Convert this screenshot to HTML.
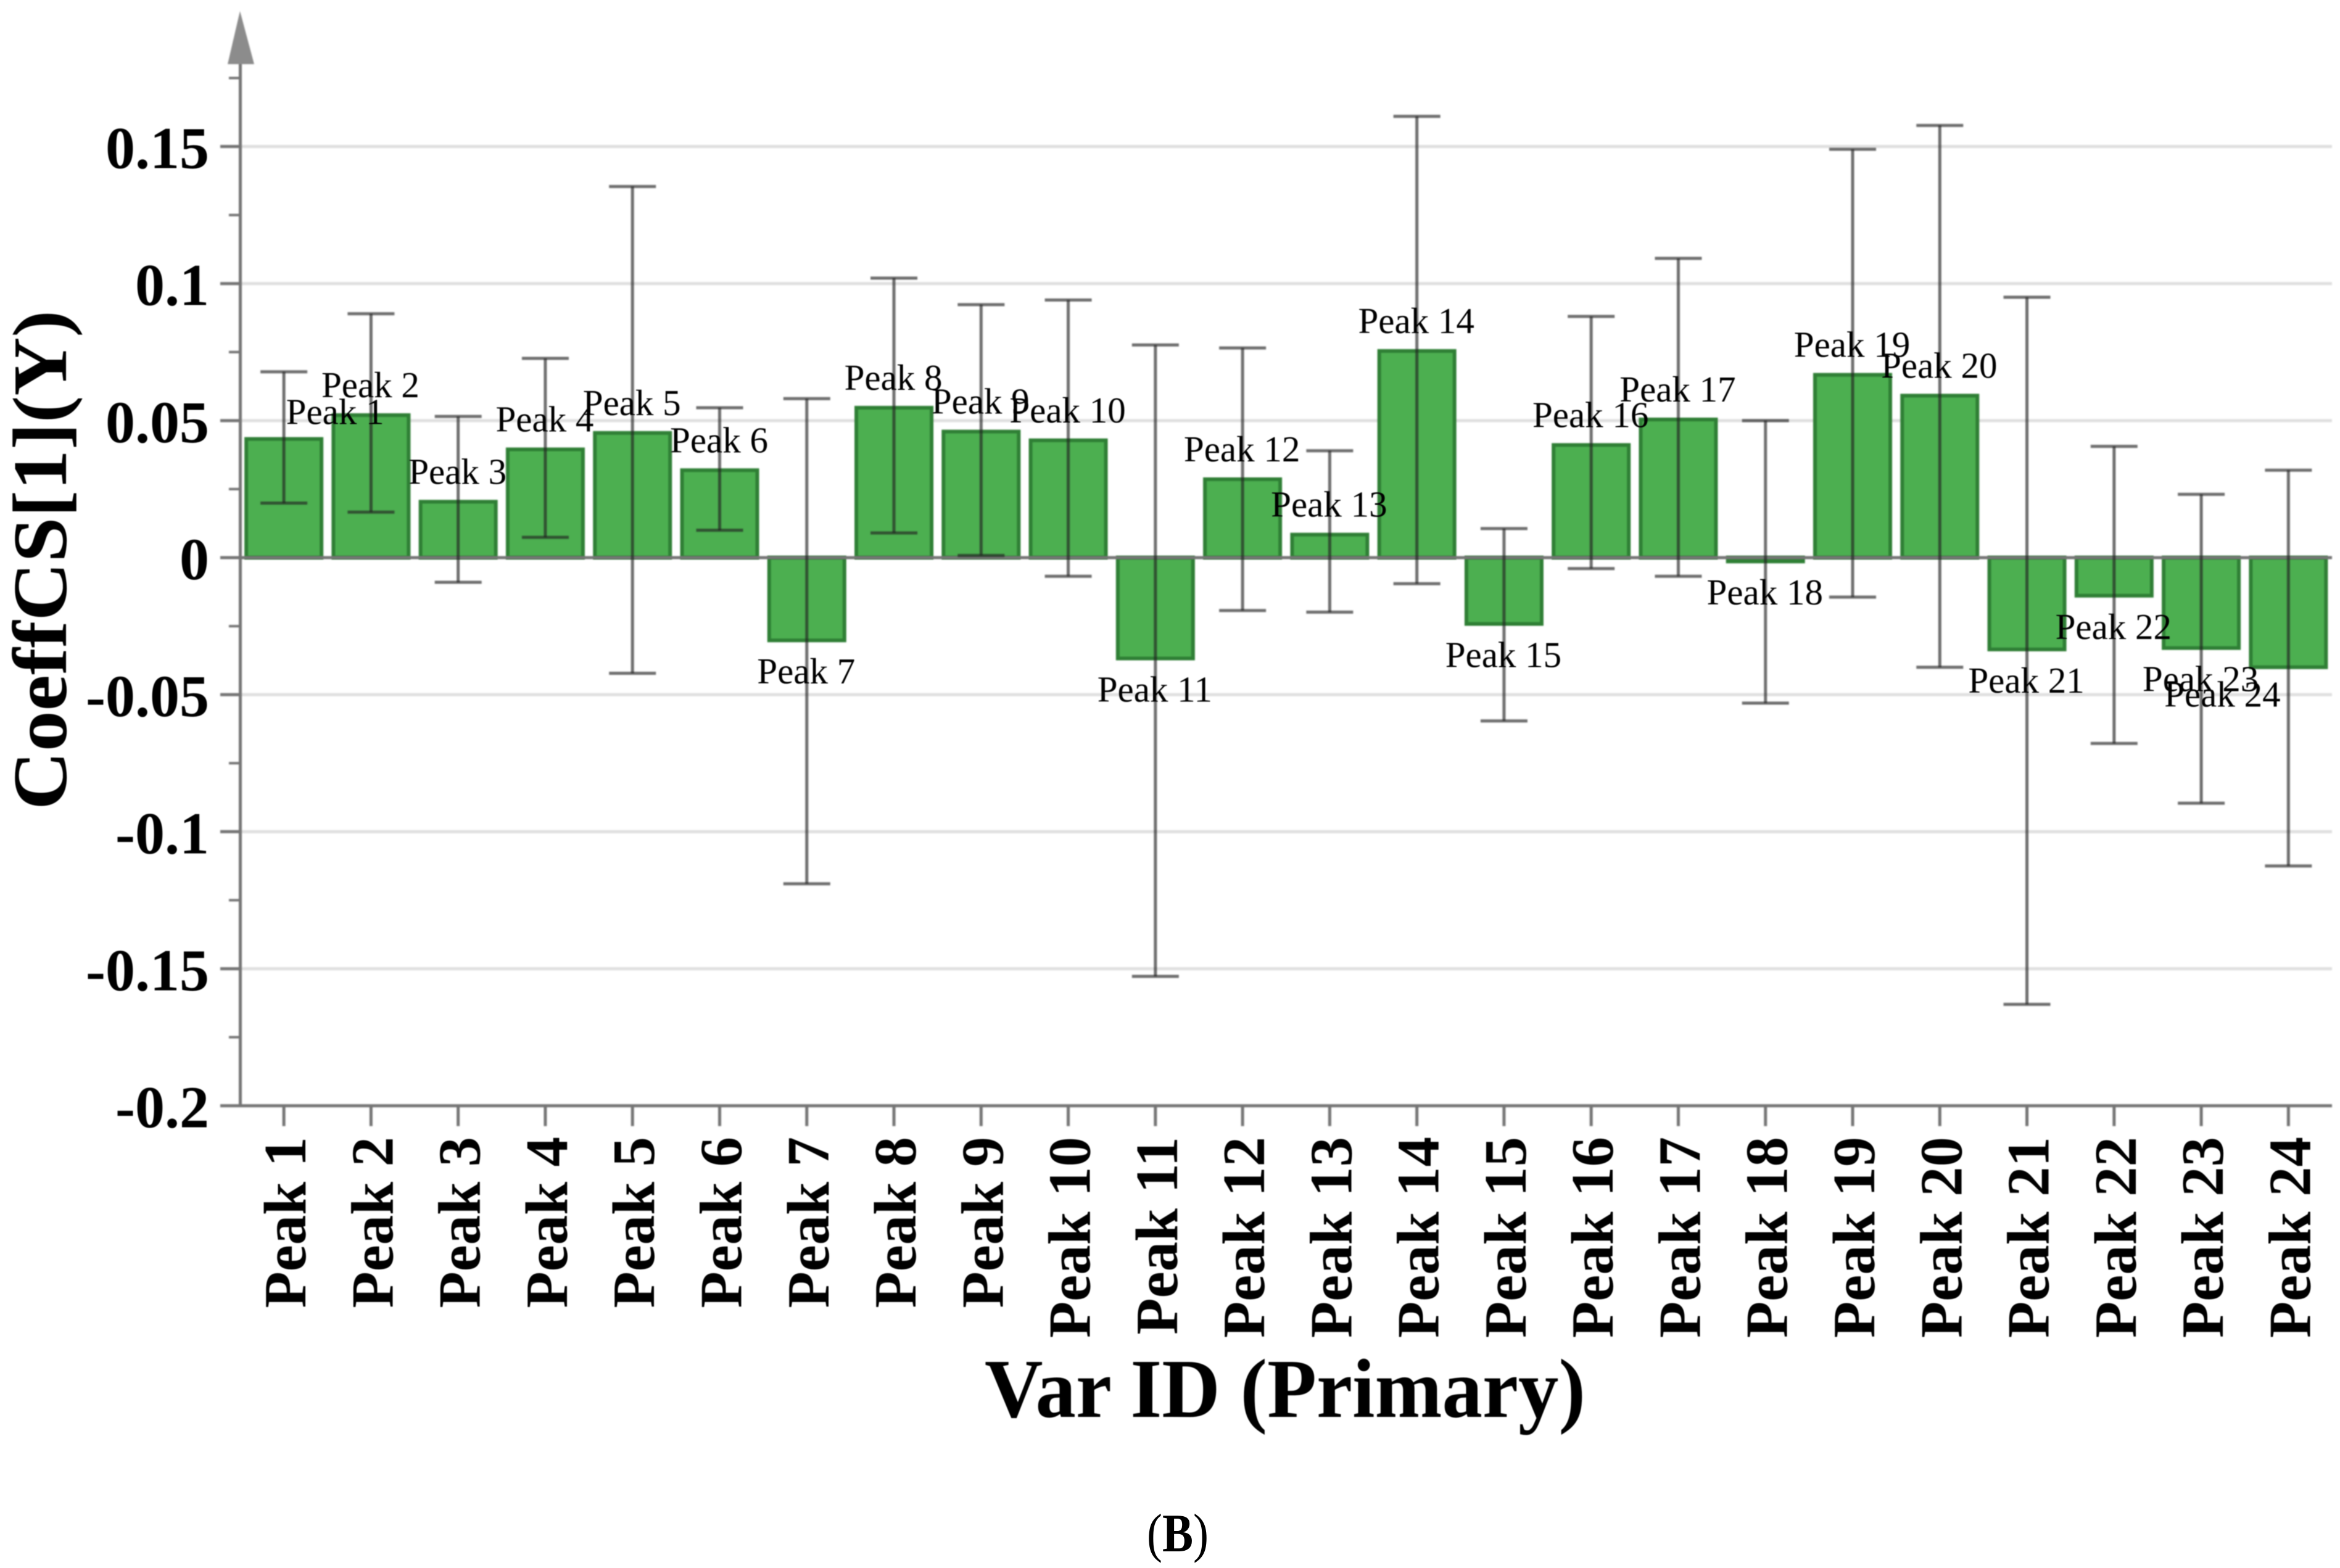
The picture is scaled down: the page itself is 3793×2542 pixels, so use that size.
<!DOCTYPE html>
<html lang="en">
<head>
<meta charset="utf-8">
<title>CoeffCS[1](Y) by peak</title>
<style>
  html, body { margin: 0; padding: 0; background: #fff; }
  body { width: 3793px; height: 2542px; overflow: hidden; }
  svg { display: block; font-family: "Liberation Serif", serif; }
</style>
</head>
<body>
<svg id="chart" xmlns="http://www.w3.org/2000/svg" width="3793" height="2542" viewBox="0 0 3793 2542">
  <rect width="3793" height="2542" fill="#fff"/>
  <g id="grid" style="filter:blur(1px)"></g>
  <g id="bars" style="filter:blur(1px)"></g>
  <g id="axes" style="filter:blur(1px)"></g>
  <g id="errors" style="filter:blur(1px)"></g>
  <g id="labels" style="filter:blur(.8px)"></g>
  <g id="ticktext" style="filter:blur(.8px)"></g>
  <text transform="translate(107 908) rotate(-90)" text-anchor="middle" font-size="125" font-weight="700" fill="#000" textLength="810" lengthAdjust="spacingAndGlyphs" style="filter:blur(.8px)">CoeffCS[1](Y)</text>
  <text x="2083" y="2297" text-anchor="middle" font-size="136" font-weight="700" fill="#000" textLength="974" lengthAdjust="spacingAndGlyphs" style="filter:blur(.8px)">Var ID (Primary)</text>
  <text x="1909" y="2515" text-anchor="middle" font-size="88" fill="#000" textLength="100" lengthAdjust="spacingAndGlyphs">(<tspan font-weight="700">B</tspan>)</text>
</svg>
<script>
// Chart data
const categories = ["Peak 1","Peak 2","Peak 3","Peak 4","Peak 5","Peak 6","Peak 7","Peak 8","Peak 9","Peak 10","Peak 11","Peak 12","Peak 13","Peak 14","Peak 15","Peak 16","Peak 17","Peak 18","Peak 19","Peak 20","Peak 21","Peak 22","Peak 23","Peak 24"];
const coefficients = [0.0433,0.052,0.0204,0.0395,0.0455,0.0319,-0.0302,0.0547,0.046,0.0428,-0.0368,0.0286,0.0084,0.0754,-0.0242,0.0411,0.0504,-0.0014,0.0667,0.0591,-0.0335,-0.0139,-0.033,-0.04];
const errorHigh = [0.0678,0.089,0.0515,0.0727,0.1354,0.0547,0.058,0.102,0.0923,0.094,0.0776,0.0765,0.039,0.161,0.0106,0.088,0.1092,0.05,0.149,0.1577,0.095,0.0406,0.0231,0.0319];
const errorLow = [0.0199,0.0166,-0.009,0.0074,-0.0422,0.01,-0.119,0.009,0.0008,-0.0068,-0.1528,-0.0193,-0.0199,-0.0095,-0.0596,-0.004,-0.0068,-0.0531,-0.0144,-0.04,-0.163,-0.0678,-0.0896,-0.1125];
const yTickValues = [0.15,0.1,0.05,0,-0.05,-0.1,-0.15,-0.2];
const yTickLabels = ["0.15","0.1","0.05","0","-0.05","-0.1","-0.15","-0.2"];
const yMinorTickValues = [0.175,0.125,0.075,0.025,-0.025,-0.075,-0.125,-0.175];

// Axis functions
const plotLeft = 389.5, plotRight = 3780, plotTop = 104, zeroY = 904, pxPerUnit = 4443;
const bandWidth = (plotRight - plotLeft) / categories.length;
const barWidth = 122;
function xScale(i) { return plotLeft + bandWidth * (i + 0.5); }
function yScale(v) { return zeroY - v * pxPerUnit; }
const axisBottom = yScale(-0.2);

const SVG_NS = "http://www.w3.org/2000/svg";
function make(tag, parentId, attrs) {
  const node = document.createElementNS(SVG_NS, tag);
  for (const k in attrs) node.setAttribute(k, attrs[k]);
  document.getElementById(parentId).appendChild(node);
  return node;
}

// Grid lines and y-axis ticks
yTickValues.forEach(function (v, i) {
  if (v !== -0.2 && v !== 0) {
    const g = make("line", "grid", {x1: plotLeft, x2: plotRight, y1: yScale(v), y2: yScale(v), stroke: "#e0e0e0", "stroke-width": 5});
    
    
  }
  const t = make("line", "axes", {x1: 357, x2: plotLeft, y1: yScale(v), y2: yScale(v), stroke: "#757575", "stroke-width": 5});
  
  
  const lab = make("text", "ticktext", {x: 339, y: yScale(v) + 35, "text-anchor": "end", "font-size": 96, "font-weight": 700, fill: "#000"});
  lab.textContent = yTickLabels[i];
  
  
});
yMinorTickValues.forEach(function (v) {
  const t = make("line", "axes", {x1: 371, x2: plotLeft, y1: yScale(v), y2: yScale(v), stroke: "#757575", "stroke-width": 4});
  
  
});

// Bars
categories.forEach(function (c, i) {
  const v = coefficients[i];
  const top = Math.min(yScale(v), yScale(0));
  const h = Math.abs(yScale(v) - yScale(0));
  const b = make("rect", "bars", {x: xScale(i) - barWidth / 2, y: top, width: barWidth, height: h, fill: "#4caf50", stroke: "#2f7f35", "stroke-width": 6});
  
  
});

// Axis lines, arrow, x ticks
const yAxis = make("line", "axes", {x1: plotLeft, x2: plotLeft, y1: plotTop, y2: axisBottom, stroke: "#757575", "stroke-width": 5});


const xAxis = make("line", "axes", {x1: plotLeft, x2: plotRight, y1: axisBottom, y2: axisBottom, stroke: "#757575", "stroke-width": 5});


const zeroLine = make("line", "axes", {x1: plotLeft, x2: plotRight, y1: yScale(0), y2: yScale(0), stroke: "#757575", "stroke-width": 5});


const arrow = make("polygon", "axes", {points: "389,18 369,104 412,104", fill: "#8c8c8c"});



categories.forEach(function (c, i) {
  const t = make("line", "axes", {x1: xScale(i), x2: xScale(i), y1: axisBottom, y2: axisBottom + 33, stroke: "#757575", "stroke-width": 5});
  
  
  const lab = make("text", "ticktext", {transform: "translate(" + (xScale(i) + 35) + " 1843) rotate(-90)", "text-anchor": "end", "font-size": 97, "font-weight": 700, fill: "#000"});
  lab.textContent = c;
  
  
});

// Error bars
categories.forEach(function (c, i) {
  const x = xScale(i), hi = yScale(errorHigh[i]), lo = yScale(errorLow[i]);
  const stem = make("line", "errors", {x1: x, x2: x, y1: hi, y2: lo, stroke: "#222", "stroke-opacity": 0.65, "stroke-width": 5});
  
  
  const capHi = make("line", "errors", {x1: x - 38, x2: x + 38, y1: hi, y2: hi, stroke: "#222", "stroke-opacity": 0.65, "stroke-width": 5});
  
  
  const capLo = make("line", "errors", {x1: x - 38, x2: x + 38, y1: lo, y2: lo, stroke: "#222", "stroke-opacity": 0.65, "stroke-width": 5});
  
  
});

// Peak labels: sit above positive bars and below negative ones; two are shifted sideways to avoid collisions
const labelShiftX = {"Peak 1": 84, "Peak 24": -106};
const labelShiftY = {"Peak 1": 5, "Peak 24": -6};
categories.forEach(function (c, i) {
  const v = coefficients[i];
  const cy = yScale(v) + (v >= 0 ? -48 : 51) + (labelShiftY[c] || 0);
  const lab = make("text", "labels", {x: xScale(i) - 1 + (labelShiftX[c] || 0), y: cy + 19, "text-anchor": "middle", "font-size": 59, fill: "#000"});
  lab.textContent = c;
  
  
});
</script>
</body>
</html>
